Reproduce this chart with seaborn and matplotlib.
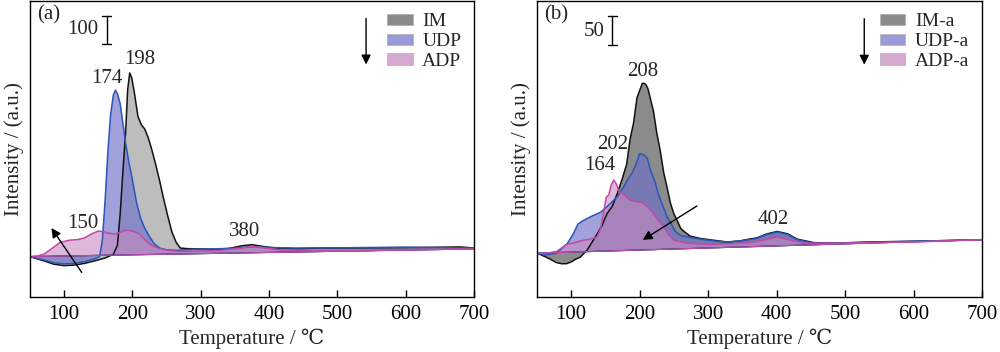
import numpy as np
import pandas as pd
import matplotlib
matplotlib.use('Agg')
import matplotlib.pyplot as plt
from matplotlib.patches import Patch
import seaborn as sns

# ---- panel (a) data (intensity, a.u., relative to start) ----
t_im = [50, 70, 85, 100, 115, 130, 145, 160, 172, 178, 182, 186, 190, 193, 196, 199, 203, 208, 213, 218, 223, 228, 234, 240, 246, 252, 258, 264, 270, 280, 300, 320, 340, 360, 375, 390, 410, 440, 480, 550, 620, 680, 700]
y_im = [0, -15, -27, -32, -30, -24, -15, -5, 8, 40, 150, 300, 440, 590, 648, 630, 575, 495, 465, 450, 420, 380, 325, 265, 200, 140, 85, 50, 30, 28, 27, 26, 28, 38, 42, 36, 30, 28, 30, 31, 32, 34, 30]

t_udp = [50, 70, 85, 100, 115, 130, 145, 152, 156, 160, 164, 168, 172, 175, 178, 182, 186, 190, 195, 200, 206, 212, 218, 225, 232, 240, 250, 265, 290, 320, 350, 375, 400, 440, 500, 600, 700]
y_udp = [0, -12, -22, -26, -24, -18, -8, 0, 60, 200, 370, 500, 570, 587, 575, 540, 470, 400, 330, 270, 190, 135, 100, 70, 45, 30, 24, 22, 26, 27, 30, 35, 32, 30, 31, 33, 30]

t_adp = [50, 60, 70, 80, 94, 108, 120, 130, 140, 150, 158, 165, 174, 182, 190, 196, 203, 210, 217, 225, 232, 240, 250, 270, 300, 330, 360, 376, 395, 420, 470, 550, 620, 700]
y_adp = [0, 2, 8, 25, 50, 58, 60, 66, 80, 90, 88, 82, 80, 86, 93, 92, 88, 80, 62, 45, 35, 28, 22, 18, 19, 22, 30, 36, 30, 22, 20, 22, 25, 27]

# ---- panel (b) data ----
t_ima = [50, 60, 69, 78, 86, 93, 100, 107, 113, 118, 123, 130, 138, 145, 152, 160, 167, 174, 181, 186, 191, 196, 200, 204, 206, 209, 212, 216, 220, 225, 230, 235, 240, 245, 250, 255, 260, 267, 274, 289, 308, 328, 347, 360, 371, 386, 401, 416, 430, 454, 484, 532, 581, 630, 700]
y_ima = [0, -5, -10, -16, -18, -18, -15, -10, -7, -1, 5, 18, 33, 47, 67, 80, 101, 125, 152, 195, 222, 265, 278, 290, 290, 288, 281, 262, 243, 205, 175, 138, 112, 85, 67, 55, 42, 35, 29, 25, 22, 19, 21, 24, 26, 33, 37, 33, 24, 18, 17, 19, 20, 21, 23]

t_udpa = [50, 60, 69, 79, 86, 94, 103, 110, 118, 128, 143, 152, 160, 167, 177, 183, 189, 195, 200, 206, 211, 216, 222, 228, 234, 240, 246, 252, 260, 269, 289, 308, 328, 347, 371, 386, 401, 416, 430, 454, 484, 700]
y_udpa = [0, -3, -2, 0, 8, 16, 33, 50, 56, 62, 70, 79, 88, 96, 114, 127, 137, 153, 170, 168, 162, 141, 123, 98, 80, 62, 50, 37, 30, 28, 24, 21, 19, 21, 25, 32, 36, 32, 23, 17, 17, 23]

t_adpa = [50, 65, 79, 86, 94, 108, 118, 128, 138, 143, 147, 151, 155, 158, 162, 166, 170, 177, 186, 196, 203, 211, 220, 228, 235, 242, 250, 269, 300, 330, 360, 380, 401, 420, 440, 484, 532, 600, 700]
y_adpa = [0, 0, 3, 9, 15, 19, 22, 24, 28, 42, 67, 95, 100, 115, 125, 118, 105, 100, 90, 88, 87, 80, 68, 55, 45, 32, 22, 17, 15, 16, 18, 22, 28, 22, 17, 17, 18, 19, 23]

ticks = [100, 200, 300, 400, 500, 600, 700]

sns.set_theme(style='ticks')
plt.rcParams['font.family'] = ['Liberation Serif', 'DejaVu Serif', 'Noto Sans CJK SC']

fig = plt.figure(figsize=(10, 3.52), dpi=100)
ax1 = fig.add_axes([0.030, 0.156, 0.444, 0.842])
ax2 = fig.add_axes([0.537, 0.156, 0.445, 0.842])


def draw(ax, t, y, base_end, fc, ec, alpha):
    t = np.asarray(t, float)
    y = np.asarray(y, float)
    base = base_end * (t - 50) / 650.0
    ax.fill_between(t, base, y, facecolor=fc, alpha=alpha, edgecolor='none')
    df = pd.DataFrame({'t': t, 'y': y})
    sns.lineplot(data=df, x='t', y='y', ax=ax, color=ec, lw=1.1, legend=False)
    ax.plot([50, 700], [0, base_end], color=ec, lw=0.8)


# panel (a)
draw(ax1, t_im, y_im, 27, '#9a9a9a', '#111111', 0.65)
draw(ax1, t_udp, y_udp, 27, '#6f6fc8', '#2a56b8', 0.65)
draw(ax1, t_adp, y_adp, 27, '#c98ac2', '#c04aa6', 0.6)
ax1.set_ylim(-143, 903)

# panel (b)
draw(ax2, t_ima, y_ima, 23, '#6e6e6e', '#111111', 0.8)
draw(ax2, t_udpa, y_udpa, 23, '#6f6fc8', '#2a56b8', 0.65)
draw(ax2, t_adpa, y_adpa, 23, '#c98ac2', '#c04aa6', 0.6)
ax2.set_ylim(-75, 431)

fs = 15
leg_colors = ['#8a8a8a', '#9a9ad8', '#d6aad0']
for ax, names in ((ax1, ['IM', 'UDP', 'ADP']), (ax2, ['IM-a', 'UDP-a', 'ADP-a'])):
    ax.set_xlim(50, 700)
    ax.set_xticks(ticks)
    ax.set_yticks([])
    ax.tick_params(axis='x', direction='in', length=5, width=1, labelsize=fs, pad=6, colors='black')
    for s in ax.spines.values():
        s.set_linewidth(1.0)
        s.set_color('black')
    ax.set_xlabel('Temperature / ℃', fontsize=fs, labelpad=3)
    ax.set_ylabel('Intensity / (a.u.)', fontsize=fs, labelpad=4)
    ax.set_facecolor('white')
    handles = [Patch(facecolor=c, edgecolor='#b0b0b0', lw=0.5) for c in leg_colors]
    ax.legend(handles, names, loc='upper right', fontsize=14, frameon=False, handlelength=1.3,
              handleheight=0.55, labelspacing=0.15, borderaxespad=0.25, handletextpad=0.5)

# annotations (a)
ax1.text(0.015, 0.985, '(a)', transform=ax1.transAxes, fontsize=fs, va='top', ha='left')
ax1.plot([162, 162], [750, 850], color='black', lw=1.0)
ax1.plot([155, 169], [850, 850], color='black', lw=1.0)
ax1.plot([155, 169], [750, 750], color='black', lw=1.0)
ax1.text(150, 801, '100', fontsize=fs, ha='right', va='center')
ax1.text(210, 694, '198', fontsize=fs, ha='center', va='center')
ax1.text(163, 627, '174', fontsize=fs, ha='center', va='center')
ax1.text(128, 118, '150', fontsize=fs, ha='center', va='center')
ax1.text(364, 88, '380', fontsize=fs, ha='center', va='center')
ax1.annotate('', xy=(79, 109), xytext=(128, -64),
             arrowprops=dict(arrowstyle='-|>', color='black', lw=1.0, mutation_scale=14))
ax1.annotate('', xy=(542, 668), xytext=(542, 850),
             arrowprops=dict(arrowstyle='-|>', color='black', lw=1.0, mutation_scale=14))

# annotations (b)
ax2.text(0.015, 0.985, '(b)', transform=ax2.transAxes, fontsize=fs, va='top', ha='left')
ax2.plot([160, 160], [355, 405], color='black', lw=1.0)
ax2.plot([153, 167], [405, 405], color='black', lw=1.0)
ax2.plot([153, 167], [355, 355], color='black', lw=1.0)
ax2.text(148, 378, '50', fontsize=fs, ha='right', va='center')
ax2.text(205, 310, '208', fontsize=fs, ha='center', va='center')
ax2.text(160, 186, '202', fontsize=fs, ha='center', va='center')
ax2.text(142, 149, '164', fontsize=fs, ha='center', va='center')
ax2.text(395, 58, '402', fontsize=fs, ha='center', va='center')
ax2.annotate('', xy=(201, 20), xytext=(287, 83),
             arrowprops=dict(arrowstyle='-|>', color='black', lw=1.0, mutation_scale=14))
ax2.annotate('', xy=(528, 317), xytext=(528, 405),
             arrowprops=dict(arrowstyle='-|>', color='black', lw=1.0, mutation_scale=14))

fig.savefig('out.png', dpi=100)
